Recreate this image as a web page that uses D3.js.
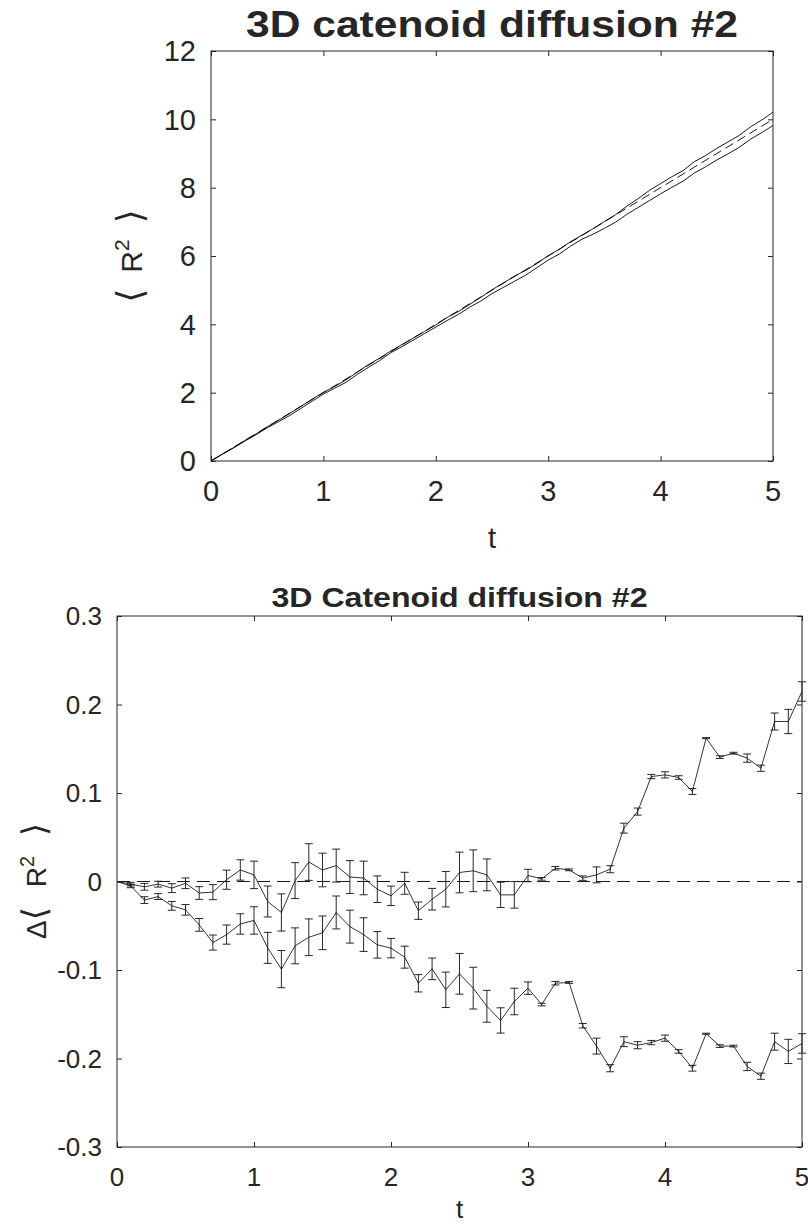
<!DOCTYPE html>
<html>
<head>
<meta charset="utf-8">
<script src="https://cdn.jsdelivr.net/npm/d3@7"></script>
<style>
  body { margin: 0; background: #fff; }
  svg text { font-family: "Liberation Sans", Arial, Helvetica, sans-serif; fill: #262626; }
</style>
</head>
<body>
<svg id="fig" width="808" height="1226"></svg>
<script>
// time samples (both panels)
const tVals = [0.0,0.1,0.2,0.3,0.4,0.5,0.6,0.7,0.8,0.9,1.0,1.1,1.2,1.3,1.4,1.5,1.6,1.7,1.8,1.9,2.0,
               2.1,2.2,2.3,2.4,2.5,2.6,2.7,2.8,2.9,3.0,3.1,3.2,3.3,3.4,3.5,3.6,3.7,3.8,3.9,4.0,
               4.1,4.2,4.3,4.4,4.5,4.6,4.7,4.8,4.9,5.0];

// top panel: <R^2> upper and lower runs, plus the dashed reference
const r2Upper = [0.00,0.20,0.39,0.60,0.79,1.00,1.19,1.39,1.60,1.81,2.01,2.18,2.37,2.60,2.82,3.01,3.22,3.41,3.60,3.79,3.98,
                 4.20,4.37,4.58,4.79,5.01,5.21,5.41,5.58,5.78,6.01,6.20,6.42,6.61,6.80,7.01,7.21,7.46,7.68,7.92,8.12,
                 8.32,8.50,8.76,8.94,9.15,9.34,9.53,9.78,9.98,10.21];
const r2Lower = [0.00,0.20,0.38,0.58,0.77,0.97,1.15,1.33,1.54,1.75,1.96,2.13,2.30,2.53,2.74,2.94,3.17,3.35,3.54,3.73,3.92,
                 4.11,4.29,4.50,4.68,4.90,5.08,5.26,5.44,5.66,5.88,6.06,6.29,6.49,6.64,6.81,6.99,7.22,7.42,7.62,7.82,
                 8.01,8.19,8.43,8.61,8.81,8.99,9.18,9.42,9.61,9.82];
const refT = [0, 5];
const refR2 = [0, 10];

// bottom panel: delta <R^2> for the two runs and their error bars
const dUpper = [0,-0.003,-0.006,-0.003,-0.0075,-0.002,-0.013,-0.012,0.002,0.013,0.0075,-0.0226,-0.035,0.001,0.022,0.013,0.018,0.005,0.004,-0.0087,-0.0162,
                -0.002,-0.033,-0.020,-0.0087,0.0102,0.0121,0.0075,-0.0151,-0.0151,0.0068,0.003,0.015,0.0132,0.0038,0.0075,0.0139,0.0603,0.079,0.1186,0.1205,
                0.1175,0.1017,0.162,0.1405,0.145,0.1394,0.128,0.1808,0.1808,0.2147];
const dLower = [0,-0.005,-0.021,-0.017,-0.0275,-0.032,-0.049,-0.069,-0.060,-0.048,-0.044,-0.075,-0.099,-0.0727,-0.063,-0.058,-0.035,-0.051,-0.060,-0.0716,-0.0753,
                -0.0855,-0.115,-0.0987,-0.1224,-0.1043,-0.1205,-0.141,-0.157,-0.1356,-0.1205,-0.139,-0.1149,-0.1141,-0.163,-0.186,-0.211,-0.181,-0.185,-0.182,-0.177,
                -0.192,-0.211,-0.172,-0.186,-0.186,-0.209,-0.220,-0.181,-0.192,-0.183];
const dErr = [0,0.002,0.0038,0.0033,0.005,0.006,0.0072,0.0085,0.0108,0.0115,0.0155,0.0175,0.021,0.0203,0.0207,0.019,0.0186,0.0186,0.019,0.015,0.011,
              0.0124,0.0098,0.0122,0.020,0.023,0.0236,0.018,0.0143,0.015,0.007,0.0015,0.002,0.001,0.0025,0.009,0.004,0.0056,0.004,0.0024,0.0035,
              0.002,0.0033,0.0006,0.0015,0.001,0.0047,0.0035,0.0096,0.0137,0.011];

const topXTicks = [0,1,2,3,4,5];
const topYTicks = [0,2,4,6,8,10,12];
const botXTicks = [0,1,2,3,4,5];
const botYTicks = [-0.3,-0.2,-0.1,0,0.1,0.2,0.3];

const svg = d3.select("#fig");
const axisCol = "#262626";

function drawFrame(g, x, y, xt, yt, fs, yFmt) {
    let [x0, x1] = x.range(), [y0, y1] = y.range();
    // ticks on all four sides, pointing inward
    g.append("g").attr("transform", "translate(0," + y0 + ")")
        .call(d3.axisBottom(x).tickValues(xt).tickSize(-5).tickFormat(""))
        .call(s => s.select(".domain").remove());
    g.append("g").attr("transform", "translate(0," + y1 + ")")
        .call(d3.axisTop(x).tickValues(xt).tickSize(-5).tickFormat(""))
        .call(s => s.select(".domain").remove());
    g.append("g").attr("transform", "translate(" + x0 + ",0)")
        .call(d3.axisLeft(y).tickValues(yt).tickSize(-5).tickFormat(""))
        .call(s => s.select(".domain").remove());
    g.append("g").attr("transform", "translate(" + x1 + ",0)")
        .call(d3.axisRight(y).tickValues(yt).tickSize(-5).tickFormat(""))
        .call(s => s.select(".domain").remove());
    g.selectAll(".tick line").attr("stroke", axisCol).attr("stroke-width", 1);

    g.append("rect")
        .attr("x", x0).attr("y", y1)
        .attr("width", x1 - x0).attr("height", y0 - y1)
        .attr("fill", "none").attr("stroke", axisCol).attr("stroke-width", 1);

    g.selectAll(".xlab").data(xt).enter().append("text")
        .attr("x", d => x(d)).attr("y", y0 + fs * 0.36 + 30)
        .attr("text-anchor", "middle").attr("font-size", fs)
        .text(d => d);
    g.selectAll(".ylab").data(yt).enter().append("text")
        .attr("x", x0 - 15).attr("y", d => y(d) + fs * 0.36)
        .attr("text-anchor", "end").attr("font-size", fs)
        .text(yFmt);
}

function bracketLabel(g, cx, cy, fs, prefix, gap) {
    let t = g.append("text").attr("transform", "translate(" + cx + "," + cy + ") rotate(-90)")
        .attr("text-anchor", "middle").attr("font-size", fs);
    if (prefix) t.append("tspan").text(prefix);
    t.append("tspan").attr("font-size", fs * 1.2).attr("font-family", "DejaVu Sans").text("\u27E8");
    t.append("tspan").attr("dx", gap).text("R");
    t.append("tspan").attr("dy", -fs * 0.42).attr("font-size", fs * 0.7).text("2");
    t.append("tspan").attr("dy", fs * 0.42).attr("dx", gap)
        .attr("font-size", fs * 1.2).attr("font-family", "DejaVu Sans").text("\u27E9");
}

// ---------- top panel ----------
let xTop = d3.scaleLinear().domain([0, 5]).range([211, 773]);
let yTop = d3.scaleLinear().domain([0, 12]).range([461, 51]);
let gTop = svg.append("g");

let lineTop = d3.line().x(d => xTop(d[0])).y(d => yTop(d[1]));
gTop.append("path").datum(tVals.map((t, i) => [t, r2Upper[i]]))
    .attr("d", lineTop).attr("fill", "none").attr("stroke", "#000").attr("stroke-width", 0.9);
gTop.append("path").datum(tVals.map((t, i) => [t, r2Lower[i]]))
    .attr("d", lineTop).attr("fill", "none").attr("stroke", "#000").attr("stroke-width", 0.9);
gTop.append("path").datum(refT.map((t, i) => [t, refR2[i]]))
    .attr("d", lineTop).attr("fill", "none").attr("stroke", "#000").attr("stroke-width", 0.9)
    .attr("stroke-dasharray", "9,5");

drawFrame(gTop, xTop, yTop, topXTicks, topYTicks, 29, d => d);

gTop.append("text").attr("x", 492).attr("y", 37).attr("text-anchor", "middle")
    .attr("font-size", 36).attr("font-weight", "bold").attr("fill", "#000")
    .attr("textLength", 492).attr("lengthAdjust", "spacingAndGlyphs")
    .text("3D catenoid diffusion #2");
gTop.append("text").attr("x", 492).attr("y", 548).attr("text-anchor", "middle")
    .attr("font-size", 29).text("t");
bracketLabel(gTop, 142, 256, 30, "", 16);

// ---------- bottom panel ----------
let xBot = d3.scaleLinear().domain([0, 5]).range([117, 802]);
let yBot = d3.scaleLinear().domain([-0.3, 0.3]).range([1147, 616]);
let gBot = svg.append("g");

gBot.append("line")
    .attr("x1", xBot(0)).attr("x2", xBot(5))
    .attr("y1", yBot(0)).attr("y2", yBot(0))
    .attr("stroke", "#000").attr("stroke-width", 0.9).attr("stroke-dasharray", "13,7");

let lineBot = d3.line().x(d => xBot(d[0])).y(d => yBot(d[1]));
[dUpper, dLower].forEach(series => {
    let pts = tVals.map((t, i) => [t, series[i], dErr[i]]);
    gBot.append("path").datum(pts)
        .attr("d", lineBot).attr("fill", "none").attr("stroke", "#000").attr("stroke-width", 0.8);
    let eb = gBot.append("g").selectAll("g").data(pts.filter(p => p[2] > 0)).enter().append("g")
        .attr("stroke", "#111").attr("stroke-width", 0.9);
    eb.append("line")
        .attr("x1", d => xBot(d[0])).attr("x2", d => xBot(d[0]))
        .attr("y1", d => yBot(d[1] - d[2])).attr("y2", d => yBot(d[1] + d[2]));
    eb.append("line")
        .attr("x1", d => xBot(d[0]) - 4).attr("x2", d => xBot(d[0]) + 4)
        .attr("y1", d => yBot(d[1] - d[2])).attr("y2", d => yBot(d[1] - d[2]));
    eb.append("line")
        .attr("x1", d => xBot(d[0]) - 4).attr("x2", d => xBot(d[0]) + 4)
        .attr("y1", d => yBot(d[1] + d[2])).attr("y2", d => yBot(d[1] + d[2]));
});

drawFrame(gBot, xBot, yBot, botXTicks, botYTicks, 26, d => d === 0 ? "0" : d3.format(".1f")(d).replace("\u2212", "-"));

gBot.append("text").attr("x", 459.5).attr("y", 607).attr("text-anchor", "middle")
    .attr("font-size", 28).attr("font-weight", "bold").attr("fill", "#000")
    .attr("textLength", 376).attr("lengthAdjust", "spacingAndGlyphs")
    .text("3D Catenoid diffusion #2");
gBot.append("text").attr("x", 459.5).attr("y", 1218).attr("text-anchor", "middle")
    .attr("font-size", 26).text("t");
bracketLabel(gBot, 46, 881, 28, "\u0394", 20);
</script>
</body>
</html>
